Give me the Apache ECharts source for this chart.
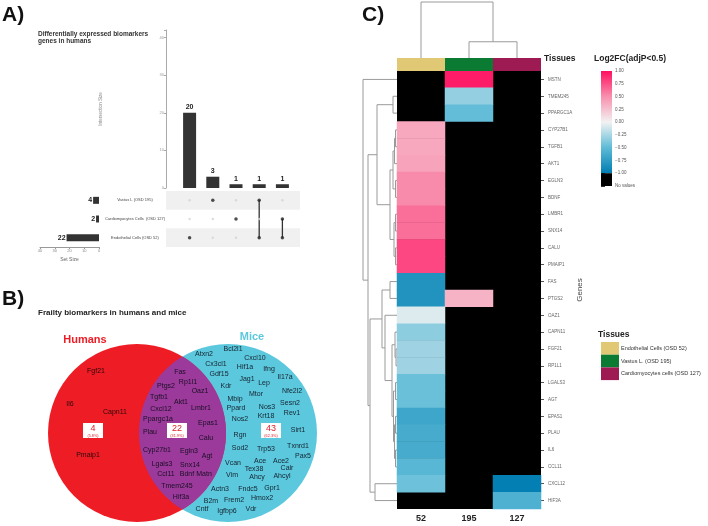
<!DOCTYPE html>
<html>
<head>
<meta charset="utf-8">
<script src="https://cdn.jsdelivr.net/npm/echarts@6/dist/echarts.min.js"></script>
<style>
html, body { margin: 0; background: #fff; }
#main { width: 708px; height: 526px; }
</style>
</head>
<body>
<div id="main"></div>
<script>
// ---------- A) UpSet data ----------
const setNames = ['Vastus L (OSD 195)', 'Cardiomyocytes Cells  (OSD 127)', 'Endothelial Cells (OSD 52)'];
const setSizes = [4, 2, 22];
const intersectionNames = ['Endothelial', 'Vastus', 'Cardiomyocytes', 'Vastus & Endothelial', 'Cardiomyocytes & Endothelial'];
const intersectionSizes = [20, 3, 1, 1, 1];
// rows: vastus, cardiomyocytes, endothelial
const membership = [[0, 0, 1], [1, 0, 0], [0, 1, 0], [1, 0, 1], [0, 1, 1]];

// ---------- B) Venn data ----------
const vennCounts = [4, 22, 43];
const vennPercents = ['5.8%', '31.9%', '62.3%'];
const humanGenes = ['Fgf21', 'Il6', 'Capn11', 'Pmaip1'];
const sharedGenes = ['Fas', 'Ptgs2', 'Rp1l1', 'Oaz1', 'Tgfb1', 'Akt1', 'Cxcl12', 'Lmbr1', 'Ppargc1a', 'Epas1', 'Plau',
  'Calu', 'Cyp27b1', 'Egln3', 'Agt', 'Lgals3', 'Snx14', 'Ccl11', 'Bdnf', 'Matn', 'Tmem245', 'Hif3a'];
const miceGenes = ['Bcl2l1', 'Atxn2', 'Cxcl10', 'Cx3cl1', 'Hif1a', 'Ifng', 'Gdf15', 'Jag1', 'Il17a', 'Kdr', 'Lep', 'Mtor',
  'Nfe2l2', 'Mbip', 'Sesn2', 'Ppard', 'Nos3', 'Krt18', 'Rev1', 'Nos2', 'Rgn', 'Sirt1', 'Sod2', 'Trp53', 'Txnrd1', 'Pax5',
  'Ace', 'Ace2', 'Vcan', 'Tex38', 'Calr', 'Vim', 'Ahcy', 'Ahcyl', 'Actn3', 'Fndc5', 'Gpr1', 'Hmox2', 'B2m', 'Frem2',
  'Cntf', 'Igfbp6', 'Vdr'];

// ---------- C) heatmap data ----------
const columnLabels = ['52', '195', '127'];
const tissueNames = ['Endothelial Cells (OSD 52)', 'Vastus L. (OSD 195)', 'Cardiomyocytes cells (OSD 127)'];
const genes = ['MSTN', 'TMEM245', 'PPARGC1A', 'CYP27B1', 'TGFB1', 'AKT1', 'EGLN3', 'BDNF', 'LMBR1', 'SNX14', 'CALU',
  'PMAIP1', 'FAS', 'PTGS2', 'OAZ1', 'CAPN11', 'FGF21', 'RP1L1', 'LGALS3', 'AGT', 'EPAS1', 'PLAU', 'IL6', 'CCL11',
  'CXCL12', 'HIF3A'];
const endothelialFC = [null, null, null, 0.38, 0.38, 0.4, 0.52, 0.52, 0.63, 0.63, 0.78, 0.78, -0.82, -0.82, -0.07,
  -0.34, -0.28, -0.28, -0.46, -0.46, -0.67, -0.63, -0.63, -0.53, -0.45, null];
const vastusFC = [0.95, -0.32, -0.48, null, null, null, null, null, null, null, null, null, null, 0.32, null,
  null, null, null, null, null, null, null, null, null, null, null];
const cardioFC = [null, null, null, null, null, null, null, null, null, null, null, null, null, null, null,
  null, null, null, null, null, null, null, null, null, -0.98, -0.58];
const colorbarTicks = [-1.25, 1, 0.25];

// dendrograms: [childA, childB, height]; leaves 0..n-1, merge k is node n+k
const rowMerges = [
  [1, 2, 4], [3, 4, 1.5], [27, 5, 2.5], [6, 7, 1.5], [28, 29, 4], [8, 9, 1.5], [10, 11, 1.5], [31, 32, 3],
  [30, 33, 7], [26, 34, 20], [12, 13, 7], [16, 17, 1], [15, 37, 2], [18, 19, 1.5], [20, 21, 1.5], [22, 23, 1.5],
  [40, 41, 2.5], [39, 42, 3.5], [38, 43, 5], [14, 44, 12], [36, 45, 15], [24, 25, 22], [46, 47, 27], [35, 48, 29],
  [0, 49, 34]
];
const colMerges = [[1, 2, 0.29], [0, 3, 1]];

// ---------- layout / styles ----------
const FONT = '"Liberation Sans", Arial, sans-serif';
const tissueColors = ['#E0C874', '#0B7A32', '#9E1A52'];
const scaleColors = ['#007db2', '#5ebbd7', '#f2f2f2', '#f88fae', '#ff0f60'];
const vennCircles = [[137, 433, 89], [228, 433, 89]];
const humanPos = [[96, 371], [70, 404], [115, 412], [88, 455]];
const sharedPos = [[180, 372], [166, 386], [188, 382], [200, 391], [159, 397], [181, 402], [161, 409], [201, 408],
  [158, 419], [208, 423], [150, 432], [206, 438], [157, 450], [189, 451], [207, 456], [162, 464], [190, 465],
  [166, 474], [187, 474], [204, 474], [177, 486], [181, 497]];
const micePos = [[233, 349], [204, 354], [255, 358], [216, 364], [245, 367], [269, 369], [219, 374], [247, 379],
  [285, 377], [226, 386], [264, 383], [256, 394], [292, 391], [235, 399], [290, 403], [236, 408], [267, 407],
  [266, 416], [292, 413], [240, 419], [240, 435], [298, 430], [240, 448], [266, 449], [298, 446], [303, 456],
  [260, 461], [281, 461], [233, 463], [254, 469], [287, 468], [232, 475], [257, 477], [282, 476], [220, 489],
  [248, 489], [272, 488], [262, 498], [211, 501], [234, 500], [202, 509], [227, 511], [251, 509]];
const boxPos = [[93, 431], [177, 431], [271, 431]];

function dendroItems(nLeaves, merges) {
  const pos = [], hgt = [];
  for (let i = 0; i < nLeaves; i++) { pos.push(i); hgt.push(0); }
  return merges.map(([a, b, h]) => {
    const item = [h, pos[a], pos[b], hgt[a], hgt[b]];
    pos.push((pos[a] + pos[b]) / 2);
    hgt.push(h);
    return item;
  });
}

// lens shape where the two venn circles overlap
function lensPoints(c1, c2) {
  const [x1, y1, r1] = c1, [x2, , r2] = c2;
  const d = x2 - x1;
  const a = (d * d + r1 * r1 - r2 * r2) / (2 * d);
  const t1 = Math.acos(a / r1), t2 = Math.acos((d - a) / r2);
  const pts = [];
  for (let i = 0; i <= 40; i++) {
    const t = -t1 + (2 * t1 * i) / 40;
    pts.push([x1 + r1 * Math.cos(t), y1 + r1 * Math.sin(t)]);
  }
  for (let i = 0; i <= 40; i++) {
    const t = Math.PI - t2 + (2 * t2 * i) / 40;
    pts.push([x2 + r2 * Math.cos(t), y1 + r2 * Math.sin(t)]);
  }
  return pts;
}

// matrix dots and connectors
const dotsOff = [], dotsOn = [], connectors = [];
membership.forEach((m, c) => {
  const rows = [];
  m.forEach((v, r) => { (v ? dotsOn : dotsOff).push([c, r]); if (v) rows.push(r); });
  if (rows.length > 1) connectors.push([c, Math.min(...rows), Math.max(...rows)]);
});

const heatData = [];
[endothelialFC, vastusFC, cardioFC].forEach((col, c) => {
  col.forEach((v, r) => { if (v !== null) heatData.push([c, r, v]); });
});

// graphic texts and venn shapes
const g = [];
function txt(x, y, s, size, o = {}) {
  g.push({
    type: 'text', silent: true, z: o.z || 20,
    style: {
      x, y, text: s, fill: o.color || '#222',
      font: `${o.weight || 'normal'} ${size}px ${FONT}`,
      align: o.align || 'left', verticalAlign: o.va || 'middle'
    }
  });
}
txt(2, 15, 'A)', 21, { weight: 'bold', color: '#111' });
txt(38, 34, 'Differentially expressed biomarkers', 6.5, { weight: 'bold', color: '#333' });
txt(38, 41.5, 'genes in humans', 6.5, { weight: 'bold', color: '#333' });
txt(2, 299, 'B)', 21, { weight: 'bold', color: '#111' });
txt(38, 313, 'Frailty biomarkers in humans and mice', 8, { weight: 'bold', color: '#222' });
txt(362, 15, 'C)', 21, { weight: 'bold', color: '#111' });

// venn circles
g.push({ type: 'circle', silent: true, z: 1, shape: { cx: vennCircles[1][0], cy: vennCircles[1][1], r: vennCircles[1][2] }, style: { fill: '#5CC8DE' } });
g.push({ type: 'circle', silent: true, z: 2, shape: { cx: vennCircles[0][0], cy: vennCircles[0][1], r: vennCircles[0][2] }, style: { fill: '#EE1C25' } });
g.push({ type: 'polygon', silent: true, z: 3, shape: { points: lensPoints(vennCircles[0], vennCircles[1]) }, style: { fill: '#9B3A9B' } });
txt(85, 340, 'Humans', 11, { weight: 'bold', color: '#EE1C25', align: 'center' });
txt(252, 337, 'Mice', 11, { weight: 'bold', color: '#5CC8DE', align: 'center' });
humanGenes.forEach((s, i) => txt(humanPos[i][0], humanPos[i][1], s, 7, { color: '#2a0a0a', align: 'center' }));
sharedGenes.forEach((s, i) => txt(sharedPos[i][0], sharedPos[i][1], s, 7, { color: '#1a0f24', align: 'center' }));
miceGenes.forEach((s, i) => txt(micePos[i][0], micePos[i][1], s, 7, { color: '#14232e', align: 'center' }));
vennCounts.forEach((n, i) => {
  const [cx, cy] = boxPos[i];
  g.push({ type: 'rect', silent: true, z: 15, shape: { x: cx - 10, y: cy - 8, width: 20, height: 15 }, style: { fill: '#fff' } });
  txt(cx, cy - 2, String(n), 9, { color: '#E0202A', align: 'center' });
  txt(cx, cy + 4.5, '(' + vennPercents[i] + ')', 3.8, { color: '#E0202A', align: 'center' });
});

// C) labels and tissue legend
txt(544, 59, 'Tissues', 8.5, { weight: 'bold', color: '#222' });
txt(594, 59, 'Log2FC(adjP<0.5)', 8.5, { weight: 'bold', color: '#222' });
txt(598, 335, 'Tissues', 8.5, { weight: 'bold', color: '#222' });
tissueNames.forEach((s, i) => {
  g.push({ type: 'rect', silent: true, z: 15, shape: { x: 601, y: 342 + i * 12.7, width: 18, height: 12.7 }, style: { fill: tissueColors[i] } });
  txt(621, 348.5 + i * 12.7, s, 5.5, { color: '#333' });
});

const dendroStyle = { stroke: '#9a9a9a', lineWidth: 1, fill: null };

const option = {
  animation: false,
  textStyle: { fontFamily: FONT },
  grid: [
    { left: 178, top: 30, width: 116, height: 158 },
    { left: 166, top: 191, width: 134, height: 56 },
    { left: 40, top: 191, width: 59, height: 56 },
    { left: 397, top: 2, width: 144, height: 56 },
    { left: 397, top: 58, width: 144, height: 13 },
    { left: 397, top: 71, width: 144, height: 438, show: true, backgroundColor: '#000', borderWidth: 0 },
    { left: 357, top: 71, width: 40, height: 438 },
    { left: 601, top: 71, width: 11, height: 115 }
  ],
  xAxis: [
    { gridIndex: 0, type: 'category', data: intersectionNames, show: false },
    { gridIndex: 1, type: 'value', min: -1.017, max: 4.759, show: false },
    {
      gridIndex: 2, type: 'value', min: 0, max: 40, interval: 10, inverse: true,
      axisLine: { show: true, lineStyle: { color: '#999' } },
      axisTick: { show: true, length: 2, lineStyle: { color: '#999' } },
      axisLabel: { fontSize: 4, color: '#888', margin: 2 }, splitLine: { show: false },
      name: 'Set Size', nameLocation: 'middle', nameGap: 10, nameTextStyle: { fontSize: 5, color: '#666' }
    },
    { gridIndex: 3, type: 'value', min: -0.5, max: 2.5, show: false },
    { gridIndex: 4, type: 'category', data: tissueNames, show: false },
    {
      gridIndex: 5, type: 'category', data: columnLabels,
      axisLine: { show: false }, axisTick: { show: false },
      axisLabel: { fontSize: 9, fontWeight: 'bold', color: '#222', margin: 5 }
    },
    { gridIndex: 6, type: 'value', min: 0, max: 40, inverse: true, show: false },
    { gridIndex: 7, type: 'value', min: 0, max: 1, show: false }
  ],
  yAxis: [
    {
      gridIndex: 0, type: 'value', min: 0, max: 42, interval: 10, offset: 12,
      axisLine: { show: true, lineStyle: { color: '#aaa' } },
      axisTick: { show: true, length: 2, lineStyle: { color: '#aaa' } },
      axisLabel: { fontSize: 4, color: '#999', margin: 2, formatter: v => (v % 10 === 0 ? v : '') },
      splitLine: { show: false },
      name: 'Intersection Size', nameLocation: 'middle', nameGap: 63, nameTextStyle: { fontSize: 4.5, color: '#888' }
    },
    {
      gridIndex: 1, type: 'category', data: setNames, inverse: true,
      axisLine: { show: false }, axisTick: { show: false },
      axisLabel: { fontSize: 4, color: '#444', align: 'center', margin: 31 },
      splitArea: { show: true, areaStyle: { color: ['#f0f0f0', 'rgba(255,255,255,0)'] } }
    },
    { gridIndex: 2, type: 'category', data: setNames, inverse: true, show: false },
    { gridIndex: 3, type: 'value', min: 0, max: 1, show: false },
    { gridIndex: 4, type: 'value', min: 0, max: 1, show: false },
    {
      gridIndex: 5, type: 'category', data: genes, inverse: true, position: 'right',
      axisLine: { show: false },
      axisTick: { show: true, length: 3, alignWithLabel: true, lineStyle: { color: '#555' } },
      axisLabel: { fontSize: 4.5, color: '#666', margin: 7 },
      name: 'Genes', nameLocation: 'middle', nameGap: 34, nameRotate: 90,
      nameTextStyle: { fontSize: 8, color: '#444' }
    },
    { gridIndex: 6, type: 'value', min: -0.5, max: 25.5, inverse: true, show: false },
    {
      gridIndex: 7, type: 'value', min: colorbarTicks[0], max: colorbarTicks[1], interval: colorbarTicks[2],
      position: 'right', axisLine: { show: false },
      axisTick: { show: true, length: 4, lineStyle: { color: '#333' } },
      axisLabel: {
        fontSize: 4.5, color: '#555', margin: 3,
        formatter: v => (v < -1.1 ? 'No values' : v.toFixed(2).replace('-', '\u2212'))
      },
      splitLine: { show: false }
    }
  ],
  visualMap: {
    type: 'continuous', show: false, min: -1, max: 1, seriesIndex: 7,
    inRange: { color: scaleColors }
  },
  series: [
    {
      type: 'bar', xAxisIndex: 0, yAxisIndex: 0, data: intersectionSizes, barWidth: 13,
      itemStyle: { color: '#333' },
      label: { show: true, position: 'top', distance: 2, fontSize: 7, fontWeight: 'bold', color: '#222' }
    },
    {
      type: 'scatter', xAxisIndex: 1, yAxisIndex: 1, data: dotsOff, symbolSize: 2.5,
      itemStyle: { color: '#d4d4d4' }, silent: true
    },
    {
      type: 'custom', xAxisIndex: 1, yAxisIndex: 1, data: connectors, silent: true,
      renderItem: (params, api) => {
        const a = api.coord([api.value(0), api.value(1)]);
        const b = api.coord([api.value(0), api.value(2)]);
        return { type: 'line', shape: { x1: a[0], y1: a[1], x2: b[0], y2: b[1] }, style: { stroke: '#333', lineWidth: 1.3 } };
      }
    },
    {
      type: 'scatter', xAxisIndex: 1, yAxisIndex: 1, data: dotsOn, symbolSize: 3.5,
      itemStyle: { color: '#222' }, silent: true, z: 5
    },
    {
      type: 'bar', xAxisIndex: 2, yAxisIndex: 2, data: setSizes, barWidth: 7,
      itemStyle: { color: '#333' },
      label: { show: true, position: 'left', distance: 1, fontSize: 7, fontWeight: 'bold', color: '#222' }
    },
    {
      type: 'custom', xAxisIndex: 3, yAxisIndex: 3, data: dendroItems(3, colMerges), silent: true,
      renderItem: (params, api) => {
        const h = api.value(0), xl = api.value(1), xr = api.value(2), hl = api.value(3), hr = api.value(4);
        return {
          type: 'polyline',
          shape: { points: [api.coord([xl, hl]), api.coord([xl, h]), api.coord([xr, h]), api.coord([xr, hr])] },
          style: dendroStyle
        };
      }
    },
    {
      type: 'bar', xAxisIndex: 4, yAxisIndex: 4, barWidth: '100%', silent: true,
      data: tissueNames.map((n, i) => ({ value: 1, itemStyle: { color: tissueColors[i] } }))
    },
    {
      type: 'heatmap', xAxisIndex: 5, yAxisIndex: 5, data: heatData, silent: true,
      itemStyle: { borderWidth: 0 }
    },
    {
      type: 'custom', xAxisIndex: 6, yAxisIndex: 6, data: dendroItems(genes.length, rowMerges), silent: true,
      renderItem: (params, api) => {
        const h = api.value(0), yl = api.value(1), yr = api.value(2), hl = api.value(3), hr = api.value(4);
        return {
          type: 'polyline',
          shape: { points: [api.coord([hl, yl]), api.coord([h, yl]), api.coord([h, yr]), api.coord([hr, yr])] },
          style: dendroStyle
        };
      }
    },
    {
      type: 'custom', xAxisIndex: 7, yAxisIndex: 7, silent: true,
      data: [[1, -1, 0], [-1, -1.25, 1]],
      renderItem: (params, api) => {
        const p1 = api.coord([0, api.value(0)]);
        const p2 = api.coord([1, api.value(1)]);
        const fill = api.value(2) === 0
          ? new echarts.graphic.LinearGradient(0, 0, 0, 1, scaleColors.slice().reverse().map((c, i) => ({ offset: i / 4, color: c })))
          : '#000';
        return { type: 'rect', shape: { x: p1[0], y: p1[1], width: p2[0] - p1[0], height: p2[1] - p1[1] }, style: { fill } };
      }
    }
  ],
  graphic: g
};

const chart = echarts.init(document.getElementById('main'));
chart.setOption(option);
window.addEventListener('resize', chart.resize);
</script>
</body>
</html>
